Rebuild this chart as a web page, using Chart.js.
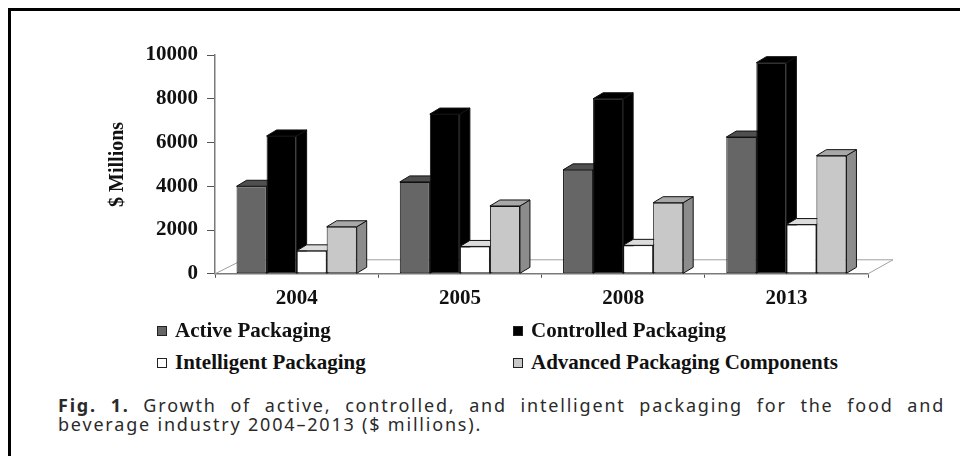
<!DOCTYPE html>
<html>
<head>
<meta charset="utf-8">
<script src="https://cdn.jsdelivr.net/npm/chart.js@4.4.1/dist/chart.umd.min.js"></script>
<style>
    html, body { margin: 0; padding: 0; background: #fff; }
    body { width: 960px; height: 456px; position: relative; overflow: hidden; }
    .frame { position: absolute; left: 8px; top: 8px; right: -10px; bottom: -10px;
             border-top: 3px solid #000; border-left: 3px solid #000; }
    .chart-box { position: absolute; left: 0; top: 0; width: 960px; height: 322px; }
    .legend-item { position: absolute; display: flex; align-items: center; gap: 8px;
                   font: bold 21px "Liberation Serif", "Times New Roman", serif; line-height: 21px;
                   color: #111; white-space: nowrap; }
    .legend-item span.sw { display: inline-block; width: 8px; height: 8px; border: 1px solid #222; }
    .caption { position: absolute; left: 58px; width: 887px; color: #2a2a2a;
               font: 18px "Noto Sans", "Open Sans", sans-serif; line-height: 18px;
               letter-spacing: 1.8px; white-space: nowrap; }
    .caption.first { text-align: justify; text-align-last: justify; white-space: normal; }
</style>
</head>
<body>
<div class="frame"></div>
<div class="chart-box"><canvas id="packChart"></canvas></div>
<div id="legend"></div>
<div class="caption first" style="top:396px"><b>Fig. 1.</b> Growth of active, controlled, and intelligent packaging for the food and</div>
<div class="caption" style="top:415px">beverage industry 2004–2013 ($ millions).</div>

<script>
// data ($ millions)
var years = ['2004', '2005', '2008', '2013'];
var seriesNames = ['Active Packaging', 'Controlled Packaging', 'Intelligent Packaging', 'Advanced Packaging Components'];
var activeVals = [4000, 4200, 4750, 6250];
var controlledVals = [6300, 7300, 8000, 9650];
var intelligentVals = [1050, 1250, 1300, 2250];
var advancedVals = [2150, 3100, 3250, 5400];
var yTicks = [0, 2000, 4000, 6000, 8000, 10000];

// front / top / side shades for the fake 3d boxes
var frontColors = ['#666666', '#000000', '#ffffff', '#c8c8c8'];
var topColors = ['#4f4f4f', '#000000', '#dcdcdc', '#a8a8a8'];
var sideColors = ['#474747', '#000000', '#bdbdbd', '#8c8c8c'];
var DX = 10, DY = 6;

// legend slots (2 x 2 like the original)
var legendPos = [
    { left: 157, top: 320 }, { left: 513, top: 320 },
    { left: 157, top: 352 }, { left: 513, top: 352 }
];

function buildLegend() {
    var box = document.getElementById('legend');
    seriesNames.forEach(function (name, i) {
        var item = document.createElement('div');
        item.className = 'legend-item';
        item.style.left = legendPos[i].left + 'px';
        item.style.top = legendPos[i].top + 'px';
        item.innerHTML = '<span class="sw" style="background:' + frontColors[i] + '"></span>' + name;
        box.appendChild(item);
    });
}

// floor + box sides, drawn under the library's front faces
var box3d = {
    id: 'box3d',
    beforeDatasetsDraw: function (chart) {
        var ctx = chart.ctx;
        var a = chart.chartArea;
        ctx.save();
        ctx.strokeStyle = '#a0a0a0';
        ctx.lineWidth = 1;
        ctx.beginPath();
        ctx.moveTo(a.left, a.bottom);
        ctx.lineTo(a.left + 28, a.bottom - 14);
        ctx.lineTo(a.right + 25, a.bottom - 14);
        ctx.lineTo(a.right, a.bottom);
        ctx.stroke();

        ctx.strokeStyle = '#111';
        for (var i = 0; i < years.length; i++) {
            for (var d = 0; d < chart.data.datasets.length; d++) {
                var bar = chart.getDatasetMeta(d).data[i];
                if (!bar) continue;
                var l = bar.x - bar.width / 2, r = bar.x + bar.width / 2;
                var t = bar.y, b = bar.base;
                // side
                ctx.fillStyle = sideColors[d];
                ctx.beginPath();
                ctx.moveTo(r, t);
                ctx.lineTo(r + DX, t - DY);
                ctx.lineTo(r + DX, b - DY);
                ctx.lineTo(r, b);
                ctx.closePath();
                ctx.fill();
                ctx.stroke();
                // top
                ctx.fillStyle = topColors[d];
                ctx.beginPath();
                ctx.moveTo(l, t);
                ctx.lineTo(l + DX, t - DY);
                ctx.lineTo(r + DX, t - DY);
                ctx.lineTo(r, t);
                ctx.closePath();
                ctx.fill();
                ctx.stroke();
            }
        }
        ctx.restore();
    }
};

function makeSet(i, vals) {
    return {
        label: seriesNames[i],
        data: vals,
        backgroundColor: frontColors[i],
        borderColor: '#111',
        borderWidth: 1,
        borderSkipped: false,
        barPercentage: 1,
        categoryPercentage: 0.736
    };
}

document.addEventListener('DOMContentLoaded', function () {
    buildLegend();
    var tickFont = { family: '"Liberation Serif", "Times New Roman", serif', size: 21, weight: 'bold' };
    var el = document.getElementById('packChart');
    new Chart(el.getContext('2d'), {
        type: 'bar',
        data: {
            labels: years,
            datasets: [
                makeSet(0, activeVals),
                makeSet(1, controlledVals),
                makeSet(2, intelligentVals),
                makeSet(3, advancedVals)
            ]
        },
        options: {
            responsive: true,
            maintainAspectRatio: false,
            animation: false,
            layout: { padding: { left: 100, top: 55, right: 92, bottom: 3 } },
            plugins: { legend: { display: false }, tooltip: { enabled: false } },
            scales: {
                x: {
                    grid: { drawOnChartArea: false, tickLength: 4, color: '#555' },
                    border: { color: '#7a7a7a', width: 1.5 },
                    ticks: { color: '#111', font: tickFont, padding: 8 }
                },
                y: {
                    min: 0,
                    max: 10000,
                    afterFit: function (axis) { axis.width = 115; },
                    afterBuildTicks: function (axis) {
                        axis.ticks = yTicks.map(function (v) { return { value: v }; });
                    },
                    grid: { drawOnChartArea: false, tickLength: 8, color: '#555' },
                    border: { color: '#7a7a7a', width: 1.5 },
                    ticks: {
                        color: '#111',
                        font: tickFont,
                        padding: 9,
                        callback: function (v) { return String(v); }
                    },
                    title: {
                        display: true,
                        text: '$ Millions',
                        color: '#111',
                        padding: { top: 6, bottom: 0 },
                        font: { family: '"Liberation Serif", "Times New Roman", serif', size: 20, weight: 'bold' }
                    }
                }
            }
        },
        plugins: [box3d]
    });
});
</script>
</body>
</html>
